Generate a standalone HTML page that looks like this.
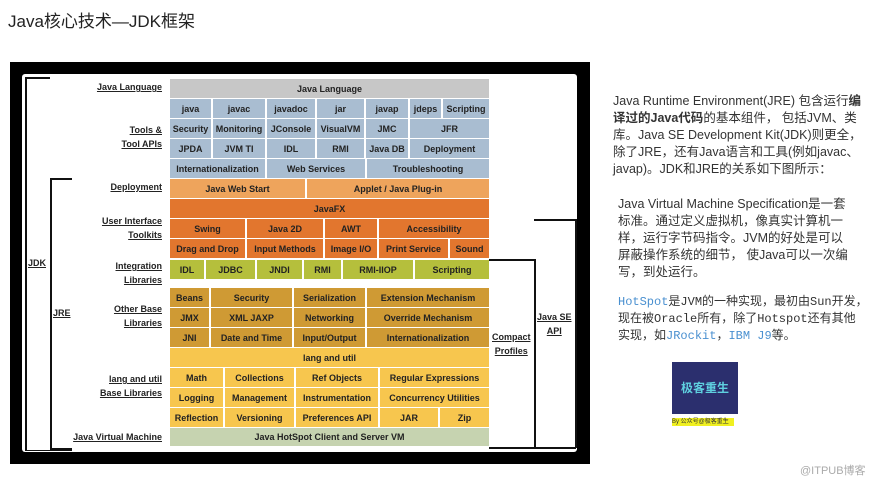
<!DOCTYPE html><html><head><meta charset="utf-8"><style>
body{margin:0;width:890px;height:484px;background:#fff;position:relative;overflow:hidden;font-family:"Liberation Sans","Noto Sans CJK SC",sans-serif}
.a{position:absolute}
.c{position:absolute;display:flex;align-items:center;justify-content:center;font-size:9px;font-weight:bold;color:#222;box-sizing:border-box;border-right:2px solid #fff;white-space:nowrap}
.l{position:absolute;right:728px;font-size:9px;font-weight:bold;text-decoration:underline;color:#222;text-align:right;line-height:13.5px;white-space:nowrap}
.ln{position:absolute;background:#111}
.t{position:absolute;font-size:12.5px;line-height:17px;color:#333;white-space:nowrap}
.m{font-family:"Liberation Mono","Noto Sans CJK SC",monospace}
.b{color:#4a90d0}
</style></head><body>
<div class="a" style="left:8px;top:7px;font-size:17px;color:#222">Java核心技术—JDK框架</div>
<div class="a" style="left:10px;top:62px;width:580px;height:402px;background:#000"></div>
<div class="a" style="left:22px;top:74px;width:555px;height:378px;background:#fff;border-radius:3px"></div>
<div id="g"></div>
<div class="ln" style="left:25px;top:77px;width:2px;height:373px"></div>
<div class="ln" style="left:25px;top:77px;width:25px;height:2px"></div>
<div class="ln" style="left:50px;top:178px;width:2px;height:272px"></div>
<div class="ln" style="left:50px;top:178px;width:22px;height:2px"></div>
<div class="ln" style="left:50px;top:448px;width:22px;height:2px"></div>
<div class="ln" style="left:25px;top:450px;width:47px;height:1px"></div>
<div class="ln" style="left:489px;top:259px;width:46px;height:1.5px"></div>
<div class="ln" style="left:534px;top:259px;width:1.5px;height:189px"></div>
<div class="ln" style="left:534px;top:219px;width:42px;height:1.5px"></div>
<div class="ln" style="left:575px;top:219px;width:1.5px;height:229px"></div>
<div class="ln" style="left:489px;top:447px;width:87px;height:1.5px"></div>
<div class="l" style="left:28px;right:auto;top:257px">JDK</div>
<div class="l" style="left:53px;right:auto;top:307px">JRE</div>
<div class="l" style="left:492px;right:auto;top:331px;text-align:center">Compact<br>Profiles</div>
<div class="l" style="left:537px;right:auto;top:311px;text-align:center">Java SE<br>API</div>
<div class="l" style="top:81px">Java Language</div>
<div class="l" style="top:124px">Tools &amp;<br>Tool APIs</div>
<div class="l" style="top:181px">Deployment</div>
<div class="l" style="top:215px">User Interface<br>Toolkits</div>
<div class="l" style="top:260px">Integration<br>Libraries</div>
<div class="l" style="top:303px">Other Base<br>Libraries</div>
<div class="l" style="top:373px">lang and util<br>Base Libraries</div>
<div class="l" style="top:431px">Java Virtual Machine</div>
<div class="t" style="left:613px;top:93px">Java Runtime Environment(JRE) 包含运行<b>编</b><br><b>译过的Java代码</b>的基本组件， 包括JVM、类<br>库。Java SE Development Kit(JDK)则更全，<br>除了JRE，还有Java语言和工具(例如javac、<br>javap)。JDK和JRE的关系如下图所示：</div>
<div class="t" style="left:618px;top:196px">Java Virtual Machine Specification是一套<br>标准。通过定义虚拟机，像真实计算机一<br>样，运行字节码指令。JVM的好处是可以<br>屏蔽操作系统的细节， 使Java可以一次编<br>写，到处运行。</div>
<div class="t m" style="left:618px;top:294px;font-size:12px"><span class="b">HotSpot</span>是JVM的一种实现，最初由Sun开发，<br>现在被Oracle所有，除了Hotspot还有其他<br>实现，如<span class="b">JRockit</span>，<span class="b">IBM J9</span>等。</div>
<div class="a" style="left:672px;top:362px;width:66px;height:52px;background:#2b2f6e;color:#5fd0e0;font-size:12px;font-weight:bold;text-align:center;line-height:52px">极客重生</div>
<div class="a" style="left:672px;top:418px;width:62px;height:8px;background:#f0f020;font-size:6px;line-height:8px;color:#333">By 公众号@极客重生</div>
<div class="a" style="left:800px;top:462px;font-size:11px;color:#aaa">@ITPUB博客</div>
<script>
const R=[
[79,19,'#c7c7c7',[[170,489,'Java Language']]],
[99,19,'#a9bdd1',[[170,213,'java'],[213,267,'javac'],[267,317,'javadoc'],[317,366,'jar'],[366,410,'javap'],[410,443,'jdeps'],[443,489,'Scripting']]],
[119,19,'#a9bdd1',[[170,213,'Security'],[213,267,'Monitoring'],[267,317,'JConsole'],[317,366,'VisualVM'],[366,410,'JMC'],[410,489,'JFR']]],
[139,19,'#a9bdd1',[[170,213,'JPDA'],[213,267,'JVM TI'],[267,317,'IDL'],[317,366,'RMI'],[366,410,'Java DB'],[410,489,'Deployment']]],
[159,19,'#a9bdd1',[[170,267,'Internationalization'],[267,367,'Web Services'],[367,489,'Troubleshooting']]],
[179,19,'#eea45c',[[170,307,'Java Web Start'],[307,489,'Applet / Java Plug-in']]],
[199,19,'#e2762e',[[170,489,'JavaFX']]],
[219,19,'#e2762e',[[170,247,'Swing'],[247,325,'Java 2D'],[325,379,'AWT'],[379,489,'Accessibility']]],
[239,19,'#e2762e',[[170,247,'Drag and Drop'],[247,325,'Input Methods'],[325,379,'Image I/O'],[379,450,'Print Service'],[450,489,'Sound']]],
[260,19,'#b5bf3c',[[170,206,'IDL'],[206,257,'JDBC'],[257,304,'JNDI'],[304,343,'RMI'],[343,415,'RMI-IIOP'],[415,489,'Scripting']]],
[288,19,'#cf9a34',[[170,211,'Beans'],[211,294,'Security'],[294,367,'Serialization'],[367,489,'Extension Mechanism']]],
[308,19,'#cf9a34',[[170,211,'JMX'],[211,294,'XML JAXP'],[294,367,'Networking'],[367,489,'Override Mechanism']]],
[328,19,'#cf9a34',[[170,211,'JNI'],[211,294,'Date and Time'],[294,367,'Input/Output'],[367,489,'Internationalization']]],
[348,19,'#f7c64e',[[170,489,'lang and util']]],
[368,19,'#f7c64e',[[170,225,'Math'],[225,296,'Collections'],[296,380,'Ref Objects'],[380,489,'Regular Expressions']]],
[388,19,'#f7c64e',[[170,225,'Logging'],[225,296,'Management'],[296,380,'Instrumentation'],[380,489,'Concurrency Utilities']]],
[408,19,'#f7c64e',[[170,225,'Reflection'],[225,296,'Versioning'],[296,380,'Preferences API'],[380,440,'JAR'],[440,489,'Zip']]],
[428,18,'#c6d3b0',[[170,489,'Java HotSpot Client and Server VM']]]];
let h='';for(const [y,hh,c,cs] of R)for(const [a,b,t] of cs){h+=`<div class="c" style="left:${a}px;top:${y}px;width:${b-a}px;height:${hh}px;background:${c};${b==489?'border-right:none;':''}">${t}</div>`}
document.getElementById('g').innerHTML=h;
</script>
</body></html>
